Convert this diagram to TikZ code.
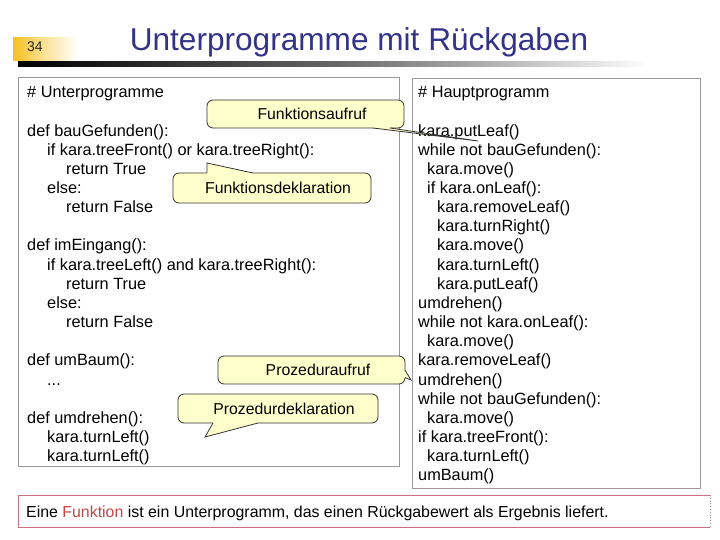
\documentclass[tikz,border=0pt]{standalone}
\usepackage{fontspec}
\setmainfont{Liberation Sans}
\definecolor{titleblue}{HTML}{333388}
\definecolor{callfill}{HTML}{FFFFCC}
\definecolor{boxgray}{HTML}{999999}
\definecolor{redline}{HTML}{CC7080}
\definecolor{funkred}{HTML}{C04848}
\definecolor{numyellow}{HTML}{F5C020}
\begin{document}
\begin{tikzpicture}[x=1pt,y=-1pt,
  code/.style={anchor=base west, inner sep=0pt, font=\fontsize{16.3}{19}\selectfont},
  codebox/.style={draw=boxgray, line width=0.8pt},
  callbox/.style={draw=black!80, fill=callfill, line width=0.8pt, rounded corners=6pt, inner sep=0pt},
  calltext/.style={inner sep=0pt, font=\fontsize{15.8}{18}\selectfont},
  tailfill/.style={fill=callfill},
  tailline/.style={draw=black!80, line width=0.8pt, line join=miter}]
\useasboundingbox (0,0) rectangle (720,540);
\fill[white] (0,0) rectangle (720,540);

% header
\shade[left color=numyellow, right color=white, middle color=numyellow!45] (13,38) rectangle (78,61);
\node[anchor=base, inner sep=0pt, font=\fontsize{14}{16}\selectfont, text=black!85] (num) at (35,52) {34};
\node[anchor=base, inner sep=0pt, font=\fontsize{31.6}{36}\selectfont, text=titleblue] (title) at (359,51) {Unterprogramme mit Rückgaben};
\shade[left color=black, right color=white, middle color=black!60] (18,62) rectangle (650,67);

% code boxes
\node[codebox, minimum width=381pt, minimum height=389pt, inner sep=0pt] (leftbox) at (208.5,272) {};
\node[codebox, minimum width=288pt, minimum height=410pt, inner sep=0pt] (rightbox) at (556,283) {};

% left code
\node[code] (l0) at (27,{97.8+0*19.15}) {\# Unterprogramme};
\node[code] (l2) at (27,{97.8+2*19.15}) {def bauGefunden():};
\node[code] (l3) at (47,{97.8+3*19.15}) {if kara.treeFront() or kara.treeRight():};
\node[code] (l4) at (66,{97.8+4*19.15}) {return True};
\node[code] (l5) at (47,{97.8+5*19.15}) {else:};
\node[code] (l6) at (66,{97.8+6*19.15}) {return False};
\node[code] (l8) at (27,{97.8+8*19.15}) {def imEingang():};
\node[code] (l9) at (47,{97.8+9*19.15}) {if kara.treeLeft() and kara.treeRight():};
\node[code] (l10) at (66,{97.8+10*19.15}) {return True};
\node[code] (l11) at (47,{97.8+11*19.15}) {else:};
\node[code] (l12) at (66,{97.8+12*19.15}) {return False};
\node[code] (l14) at (27,{97.8+14*19.15}) {def umBaum():};
\node[code] (l15) at (47,{97.8+15*19.15}) {...};
\node[code] (l17) at (27,{97.8+17*19.15}) {def umdrehen():};
\node[code] (l18) at (47,{97.8+18*19.15}) {kara.turnLeft()};
\node[code] (l19) at (47,{97.8+19*19.15}) {kara.turnLeft()};

% right code
\node[code] (r0) at (418,{97.8+0*19.15}) {\# Hauptprogramm};
\node[code] (r2) at (418,{97.8+2*19.15}) {kara.putLeaf()};
\node[code] (r3) at (418,{97.8+3*19.15}) {while not bauGefunden():};
\node[code] (r4) at (427,{97.8+4*19.15}) {kara.move()};
\node[code] (r5) at (427,{97.8+5*19.15}) {if kara.onLeaf():};
\node[code] (r6) at (437,{97.8+6*19.15}) {kara.removeLeaf()};
\node[code] (r7) at (437,{97.8+7*19.15}) {kara.turnRight()};
\node[code] (r8) at (437,{97.8+8*19.15}) {kara.move()};
\node[code] (r9) at (437,{97.8+9*19.15}) {kara.turnLeft()};
\node[code] (r10) at (437,{97.8+10*19.15}) {kara.putLeaf()};
\node[code] (r11) at (418,{97.8+11*19.15}) {umdrehen()};
\node[code] (r12) at (418,{97.8+12*19.15}) {while not kara.onLeaf():};
\node[code] (r13) at (427,{97.8+13*19.15}) {kara.move()};
\node[code] (r14) at (418,{97.8+14*19.15}) {kara.removeLeaf()};
\node[code] (r15) at (418,{97.8+15*19.15}) {umdrehen()};
\node[code] (r16) at (418,{97.8+16*19.15}) {while not bauGefunden():};
\node[code] (r17) at (427,{97.8+17*19.15}) {kara.move()};
\node[code] (r18) at (418,{97.8+18*19.15}) {if kara.treeFront():};
\node[code] (r19) at (427,{97.8+19*19.15}) {kara.turnLeft()};
\node[code] (r20) at (418,{97.8+20*19.15}) {umBaum()};

% callout: Funktionsaufruf
\node[callbox, minimum width=197pt, minimum height=28pt] (fa) at (305.5,114) {};
\node[calltext] (fatext) at (312,114) {Funktionsaufruf};
\coordinate (fatip) at (478,141);
\fill[tailfill] (373,126.5) -- (373,128) -- (fatip) -- (390,128) -- (390,126.5) -- cycle;
\draw[tailline] (373,128) -- (fatip) -- (390,128);

% callout: Funktionsdeklaration
\node[callbox, minimum width=198pt, minimum height=30pt] (fd) at (272,188) {};
\node[calltext] (fdtext) at (278,188) {Funktionsdeklaration};
\coordinate (fdtip) at (207,163);
\fill[tailfill] (207,174.5) -- (207,173) -- (fdtip) -- (253,173) -- (253,174.5) -- cycle;
\draw[tailline] (207,173) -- (fdtip) -- (253,173);

% callout: Prozeduraufruf
\node[callbox, minimum width=187pt, minimum height=28pt] (pa) at (311.5,370) {};
\node[calltext] (patext) at (318,370) {Prozeduraufruf};
\coordinate (patip) at (411,380);
\fill[tailfill] (403.5,370) -- (405,370) -- (patip) -- (405,377.5) -- (403.5,377.5) -- cycle;
\draw[tailline] (405,370) -- (patip) -- (405,377.5);

% callout: Prozedurdeklaration
\node[callbox, minimum width=200pt, minimum height=29pt] (pd) at (278,408.5) {};
\node[calltext] (pdtext) at (284,409) {Prozedurdeklaration};
\coordinate (pdtip) at (205,437);
\fill[tailfill] (213,421.5) -- (213,423) -- (pdtip) -- (258,423) -- (258,421.5) -- cycle;
\draw[tailline] (213,423) -- (pdtip) -- (258,423);

% bottom statement
\draw[redline, line width=0.8pt] (710,495) -- (18,495) -- (18,527) -- (710,527);
\draw[boxgray, line width=0.8pt, dotted] (710,495) -- (710,527);
\node[code, font=\fontsize{15.9}{19}\selectfont] (summary) at (26,517) {Eine \textcolor{funkred}{Funktion} ist ein Unterprogramm, das einen Rückgabewert als Ergebnis liefert.};
\end{tikzpicture}
\end{document}
